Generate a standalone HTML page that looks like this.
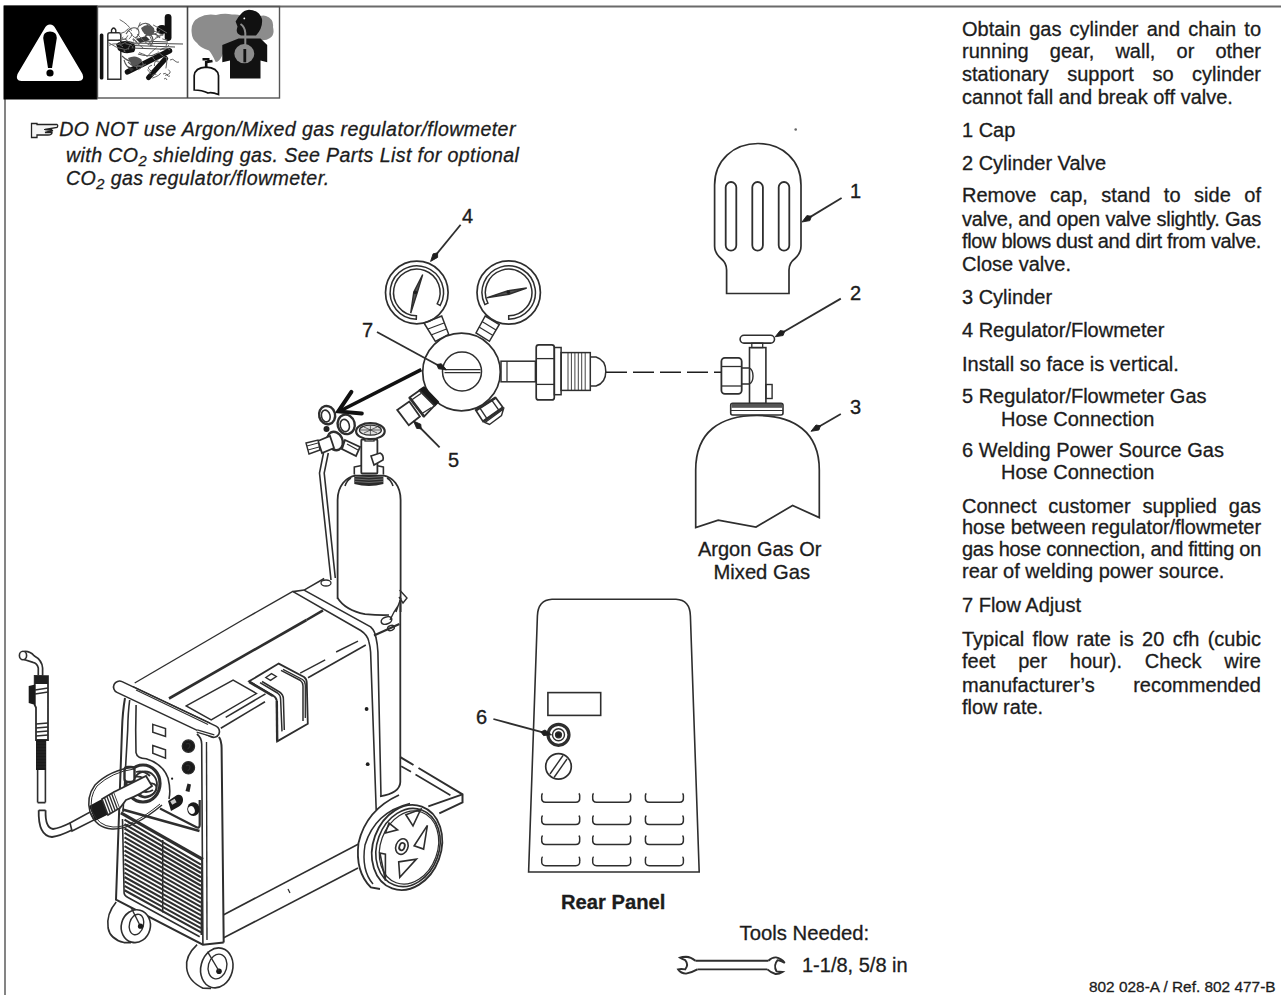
<!DOCTYPE html>
<html><head><meta charset="utf-8"><style>
html,body{margin:0;padding:0;background:#fff;}
body{width:1281px;height:995px;position:relative;overflow:hidden;font-family:"Liberation Sans",sans-serif;color:#1c1c1c;}
.t{position:absolute;white-space:nowrap;-webkit-text-stroke:0.3px #1c1c1c;}
.sub{font-size:0.75em;position:relative;top:0.3em;line-height:0;}
svg{position:absolute;left:0;top:0;}
</style></head><body>
<svg width="1281" height="995" viewBox="0 0 1281 995">
<line x1="4" y1="6.5" x2="1281" y2="6.5" stroke="#6a6a6a" stroke-width="2"/>
<line x1="5" y1="6" x2="5" y2="995" stroke="#777" stroke-width="1.8"/>
<rect x="3.5" y="5.5" width="94" height="94" fill="#000"/>
<path d="M50,24.6 Q53.5,24.6 55.5,28.5 L82.5,74 Q85,80.5 78.5,81 L21.5,81 Q15,80.5 17.5,74 L44.5,28.5 Q46.5,24.6 50,24.6 Z" fill="#fff"/>
<path d="M43.2,38 Q43.2,31.5 50,31.5 Q56.8,31.5 56.8,38 L52,68 L48,68 Z" fill="#000"/>
<circle cx="50" cy="73" r="3.6" fill="#000"/>
<rect x="97.5" y="6.5" width="182" height="91.5" fill="none" stroke="#555" stroke-width="1.4"/>
<line x1="187.5" y1="6" x2="187.5" y2="98" stroke="#444" stroke-width="1.6"/>
<rect x="99.8" y="33.5" width="3.6" height="46" rx="1.5" fill="#111"/>
<path d="M107.8,79.3 L107.8,35 Q107.8,32.8 110,32.8 L118.6,32.8 Q120.8,32.8 120.8,35 L120.8,79.3 Z M108,40.3 L120.6,40.3" fill="none" stroke="#333" stroke-width="1.5"/>
<path d="M111.5,33 L111.5,30 Q113.6,26 115.8,30 L115.8,33" fill="none" stroke="#222" stroke-width="1.4"/>
<rect x="164.7" y="14" width="6.8" height="27" rx="3.4" fill="#111"/>
<ellipse cx="162" cy="29.5" rx="5.5" ry="4.5" fill="#111"/>
<path d="M116,44 Q122,39 133,42 Q137,47 134,52 Q124,55 118,50 Z" fill="#111"/>
<path d="M132,43 L183,44 M133,45.5 L175,47 M131,48 L172,49.5 M140,41 L168,42" stroke="#333" stroke-width="0.9" fill="none"/>
<path d="M127.5,71.9 L169.5,50.8" stroke="#111" stroke-width="5.5" stroke-linecap="round"/>
<path d="M148.5,77.6 L165.7,58.5" stroke="#111" stroke-width="5" stroke-linecap="round"/>
<path d="M126,34 Q131,25 138,29 Q141,35 135,38 M139,26 Q146,20 152,27 Q150,33 144,33 M145,36 Q155,31 160,38 M122,56 Q130,64 138,60 M128,62 Q136,70 146,64 M138,54 Q150,58 158,53 M150,34 Q156,40 150,46 M124,60 Q126,67 132,70 M160,50 Q166,46 170,50" stroke="#555" stroke-width="1.1" fill="none"/>
<path d="M136,39 L146,36 L150,40 L140,43 Z M128,66 L134,69 L131,72 Z" fill="#333"/>
<path d="M136.9,30.1 Q139.6,24.2 140.3,22.3 M124.7,49.4 Q116.3,48.5 108.6,42.7 M141.5,66.7 Q134.8,62.8 137.1,69.0 M148.5,43.4 Q157.1,37.1 163.6,34.1 M128.6,28.4 Q125.2,32.8 119.4,33.9 M151.4,42.1 Q152.2,36.0 144.3,31.9 M153.3,45.1 Q150.0,46.3 149.1,43.5 M158.5,59.7 Q153.9,60.8 154.4,66.0 M155.6,37.5 Q164.2,32.2 162.7,35.8 M129.0,48.4 Q120.7,50.8 125.5,51.8 M162.3,38.9 Q165.8,40.3 167.2,39.7 M160.6,73.0 Q160.2,75.3 152.3,78.1 M151.8,75.6 Q157.6,72.6 155.5,75.0 M123.0,46.9 Q117.1,41.6 109.1,45.3 M127.9,35.4 Q126.0,40.6 118.4,39.9 M147.3,69.7 Q153.0,74.8 149.0,73.6 M138.5,69.7 Q146.7,64.9 140.9,61.1 M132.7,48.2 Q134.3,44.9 125.4,43.7 M139.0,52.6 Q147.1,55.2 147.4,56.9 M153.1,24.9 Q160.3,28.8 167.0,33.0 M140.0,43.5 Q132.9,45.4 125.0,39.4 M131.6,30.8 Q128.7,24.5 119.7,19.6 M126.7,41.6 Q118.1,46.9 120.2,42.0 M133.6,40.8 Q131.2,35.5 137.4,42.4 M143.4,48.1 Q136.0,42.6 133.1,39.3 M160.1,30.7 Q151.5,37.0 152.1,32.1 M147.0,23.5 Q147.5,30.2 154.0,32.9 M134.0,41.8 Q128.0,45.6 128.6,49.5 M137.2,34.0 Q142.8,40.8 149.1,45.1 M159.6,62.0 Q154.7,62.2 152.1,55.6 M123.3,37.1 Q119.0,39.8 127.2,39.0 M165.1,75.4 Q173.3,73.5 168.3,69.6 M131.0,33.0 Q133.3,38.6 139.4,38.4 M152.0,65.2 Q144.6,67.4 151.9,71.4 M156.5,47.8 Q150.7,51.9 147.7,56.1 M166.7,43.4 Q164.9,49.6 169.0,45.0 M127.8,30.2 Q135.1,34.5 128.8,39.0 M167.1,57.5 Q164.4,58.2 157.8,51.4 M166.7,57.1 Q167.1,63.2 165.9,68.4 M160.0,33.4 Q155.5,30.5 150.9,31.7" stroke="#666" stroke-width="1" fill="none"/>
<path d="M141,28 Q148,22 154,28 Q156,34 150,36 Q143,35 141,28 Z M128,58 Q136,54 142,60 Q140,66 132,66 Z" fill="#555"/>
<path d="M170,60 q3,-2 5,1 q2,2 4,1 M163,74 q3,-2 4,1 q1,2 3,1 M164,79 q2,-2 3,1" stroke="#666" stroke-width="1" fill="none"/>
<path d="M191.8,33.7 Q190,22 199,17.5 Q206,13.5 216,15 Q225,12.5 232,14.6 Q240,13.5 246,18 L252,22 Q260,14 266,16 Q274,19 273,27 Q275,35 270,38 Q266,41 260,40 L230,46 Q224,50 222,56 Q219,62 215.7,62 Q212,54 209,50.5 Q200,48 197,43 Q192,39 191.8,33.7 Z" fill="#8c8c8c"/>
<path d="M249,9.8 Q259,10 262,19 Q263,28 256,35.6 L241,35.6 Q236.5,34 236.7,30 L237.5,26.5 L235.6,21.5 Q238,17 240.5,14.6 Q244,10 249,9.8 Z" fill="#111"/>
<circle cx="244.3" cy="18.4" r="0.9" fill="#fff"/>
<path d="M222.3,45.1 L238.6,38.4 L260.5,38.4 L267.2,45.1 L267.2,62.3 L260.5,60.4 L260.5,78.5 L230,78.5 L230,60.4 L222.3,62.3 Z" fill="#111"/>
<ellipse cx="244.3" cy="53.7" rx="10" ry="9.6" fill="#8c8c8c"/>
<rect x="243.4" y="49" width="2.8" height="13.3" fill="#111"/>
<path d="M240.5,24 Q245,27 245.3,33 L245.3,47" stroke="#8c8c8c" stroke-width="2" fill="none"/>
<path d="M194.2,90 L194.2,75.7 Q195,67.5 206.1,67.1 Q217.5,67.5 218.5,75.7 L218.5,94.5 Q212,92 208,93 Q202,90 194.2,90 Z" fill="#fff" stroke="#111" stroke-width="1.7"/>
<path d="M206.2,67 L206.2,61 M202.5,59.2 L209.5,59.2 M207,62 L212.5,61" fill="none" stroke="#111" stroke-width="2.6"/>
<path d="M31.5,123.5 L31.5,137.5 L37,137.5 L37,135 L48,135 Q52,135 52,132.5 L45,132.5 L53,130.5 L45,129.5 L57,127.5 Q58.5,125.5 57,124.5 L37,124.5 L37,123.5 Z" fill="#f4f4f4" stroke="#222" stroke-width="1.3"/>
<path d="M44,129.5 L52,129.5 M45,132.5 L51,132.5" stroke="#222" stroke-width="1"/>
<circle cx="795.7" cy="129.5" r="1.3" fill="#666"/>
<path d="M726.6,293.5 L726.6,270 Q726.6,263 721,258.5 Q714.6,253 714.6,246 L714.6,185 C714.6,160 734,143.5 758,143.5 C782,143.5 801,160 801,185 L801,246 Q801,253 795,258.5 Q789,263 789,270 L789,293.5 Z" fill="none" stroke="#2e2e2e" stroke-width="1.7" />
<rect x="725.7" y="182" width="10.6" height="68.6" rx="5.3" fill="none" stroke="#2e2e2e" stroke-width="1.8" />
<rect x="752.3000000000001" y="182" width="10.6" height="68.6" rx="5.3" fill="none" stroke="#2e2e2e" stroke-width="1.8" />
<rect x="778.7" y="182" width="10.6" height="68.6" rx="5.3" fill="none" stroke="#2e2e2e" stroke-width="1.8" />
<line x1="841.6" y1="197.9" x2="807.125441251678" y2="218.88072893521618" stroke="#2e2e2e" stroke-width="1.8" />
<path d="M802.0,222.0 L806.9,215.6 L811.4,216.3 L809.9,220.6 Z" fill="#1e1e1e" stroke="#1e1e1e" stroke-width="0.9" stroke-linejoin="round"/>
<text x="850" y="198" font-family="Liberation Sans" font-size="20" fill="#1c1c1c" stroke="#1c1c1c" stroke-width="0.35">1</text>
<rect x="740.1" y="335.3" width="34.4" height="7.8" rx="3.9" fill="none" stroke="#2e2e2e" stroke-width="1.6" />
<rect x="751.8" y="343.1" width="10.9" height="4.5" rx="0" fill="none" stroke="#2e2e2e" stroke-width="1.3" />
<rect x="749.5" y="347.6" width="16.4" height="56" rx="0" fill="none" stroke="#2e2e2e" stroke-width="1.6" />
<rect x="721.4" y="357.9" width="20.3" height="35.9" rx="3.5" fill="none" stroke="#2e2e2e" stroke-width="1.8" />
<line x1="722" y1="366.5" x2="741" y2="366.5" stroke="#2e2e2e" stroke-width="1.3" />
<line x1="722" y1="386" x2="741" y2="386" stroke="#2e2e2e" stroke-width="1.3" />
<path d="M741.7,368 L749.5,368 Q753,370 753,376 Q753,382 749.5,384 L741.7,384" fill="none" stroke="#2e2e2e" stroke-width="1.4" />
<rect x="765.9" y="384.5" width="6.2" height="14" rx="0" fill="none" stroke="#2e2e2e" stroke-width="1.4" />
<rect x="730.7" y="403.2" width="52.3" height="11.8" rx="2" fill="none" stroke="#2e2e2e" stroke-width="1.6" />
<rect x="731.5" y="403.8" width="50.7" height="4" fill="#555"/>
<line x1="731" y1="410.5" x2="783" y2="410.5" stroke="#2e2e2e" stroke-width="1.2" />
<line x1="840.8" y1="298.6" x2="780.3849652768446" y2="333.780706195496" stroke="#2e2e2e" stroke-width="1.8" />
<path d="M775.2,336.8 L780.2,330.5 L784.7,331.3 L783.1,335.5 Z" fill="#1e1e1e" stroke="#1e1e1e" stroke-width="0.9" stroke-linejoin="round"/>
<text x="850" y="300" font-family="Liberation Sans" font-size="20" fill="#1c1c1c" stroke="#1c1c1c" stroke-width="0.35">2</text>
<path d="M695.7,527.6 L695.7,470 C695.7,432 720,415.5 757,415.5 C794,415.5 819.3,432 819.3,470 L819.3,517.6 L792.6,505.5 L756,527 L718.2,520.2 Z" fill="none" stroke="#2e2e2e" stroke-width="1.7" />
<line x1="840.8" y1="414" x2="816.1889775756335" y2="428.28760697790403" stroke="#2e2e2e" stroke-width="1.8" />
<path d="M811.0,431.3 L816.0,425.0 L820.5,425.8 L818.9,430.0 Z" fill="#1e1e1e" stroke="#1e1e1e" stroke-width="0.9" stroke-linejoin="round"/>
<text x="850" y="414" font-family="Liberation Sans" font-size="20" fill="#1c1c1c" stroke="#1c1c1c" stroke-width="0.35">3</text>
<line x1="606" y1="372.3" x2="721" y2="372.3" stroke="#1e1e1e" stroke-width="1.4" stroke-dasharray="21 6"/>
<circle cx="416.8" cy="292.5" r="31.3" fill="none" stroke="#2e2e2e" stroke-width="1.7" />
<path d="M416.3,319.2 A26.7,26.7 0 1 1 440.2,305.4 L437.2,303.8 A23.3,23.3 0 1 0 416.4,315.8 Z" fill="none" stroke="#2e2e2e" stroke-width="1.5" />
<path d="M410.7,313.2 L413.8,292 L422.7,274.6 L417.2,292.8 Z" fill="#555" stroke="#2e2e2e" stroke-width="1.4" />
<circle cx="415.4" cy="292.4" r="1.8" fill="#1e1e1e"/>
<circle cx="508.7" cy="292.5" r="31.7" fill="none" stroke="#2e2e2e" stroke-width="1.7" />
<path d="M484.9,304.6 A26.7,26.7 0 1 1 508.7,319.2 L508.7,315.8 A23.3,23.3 0 1 0 487.9,303.1 Z" fill="none" stroke="#2e2e2e" stroke-width="1.5" />
<path d="M486.6,297.8 L508,290.8 L526.7,288 L509,294.2 Z" fill="#555" stroke="#2e2e2e" stroke-width="1.4" />
<circle cx="508.4" cy="292.3" r="1.8" fill="#1e1e1e"/>
<path d="M424,323 L441.7,316 L448.7,334.3 L435.3,341.3 Z" fill="none" stroke="#2e2e2e" stroke-width="1.5" />
<line x1="428" y1="329" x2="444" y2="323" stroke="#2e2e2e" stroke-width="1.2" />
<line x1="431" y1="335" x2="446.5" y2="329" stroke="#2e2e2e" stroke-width="1.2" />
<path d="M485.2,316 L499.3,324.5 L489.4,341.3 L476,333 Z" fill="none" stroke="#2e2e2e" stroke-width="1.5" />
<line x1="482" y1="321.5" x2="496" y2="330" stroke="#2e2e2e" stroke-width="1.2" />
<line x1="479" y1="327" x2="493" y2="335.5" stroke="#2e2e2e" stroke-width="1.2" />
<circle cx="461.5" cy="372" r="38.8" fill="#fff" stroke="#2e2e2e" stroke-width="1.7" />
<circle cx="462" cy="371.5" r="19.5" fill="none" stroke="#2e2e2e" stroke-width="1.5" />
<line x1="444.5" y1="369.6" x2="480.5" y2="369.6" stroke="#2e2e2e" stroke-width="1.2" />
<line x1="444.5" y1="372.6" x2="480.5" y2="372.6" stroke="#2e2e2e" stroke-width="1.2" />
<rect x="501" y="361.2" width="34.4" height="20.6" rx="0" fill="none" stroke="#2e2e2e" stroke-width="1.5" />
<line x1="507" y1="361.5" x2="507" y2="381.5" stroke="#2e2e2e" stroke-width="1.2" />
<rect x="536.2" y="344.9" width="18.1" height="55" rx="2.5" fill="none" stroke="#2e2e2e" stroke-width="1.7" />
<line x1="536.5" y1="358.6" x2="554" y2="358.6" stroke="#2e2e2e" stroke-width="1.3" />
<line x1="536.5" y1="384.4" x2="554" y2="384.4" stroke="#2e2e2e" stroke-width="1.3" />
<rect x="554.3" y="347.5" width="6.8" height="47.2" rx="0" fill="none" stroke="#2e2e2e" stroke-width="1.5" />
<rect x="561.1" y="352.6" width="29.2" height="37.8" rx="0" fill="none" stroke="#2e2e2e" stroke-width="1.5" />
<line x1="568" y1="353" x2="568" y2="390" stroke="#2e2e2e" stroke-width="0.9" />
<line x1="571.4" y1="353" x2="571.4" y2="390" stroke="#2e2e2e" stroke-width="0.9" />
<line x1="574.9" y1="353" x2="574.9" y2="390" stroke="#2e2e2e" stroke-width="0.9" />
<line x1="578.3" y1="353" x2="578.3" y2="390" stroke="#2e2e2e" stroke-width="0.9" />
<line x1="581.7" y1="353" x2="581.7" y2="390" stroke="#2e2e2e" stroke-width="0.9" />
<line x1="585.2" y1="353" x2="585.2" y2="390" stroke="#2e2e2e" stroke-width="0.9" />
<path d="M590.3,357 L596,357 Q605.8,360 605.8,371.5 Q605.8,383 596,386 L590.3,386" fill="none" stroke="#2e2e2e" stroke-width="1.5" />
<path d="M485,422.5 L503.5,409 L501.5,415.5 L489.5,424.5 Z" fill="#fff" stroke="#2e2e2e" stroke-width="1.4" />
<path d="M475.8,410.3 L495.7,397.7 L503,407.6 L483.1,421.6 Z" fill="#fff" stroke="#2e2e2e" stroke-width="1.7" />
<line x1="475.8" y1="410.3" x2="495.7" y2="397.7" stroke="#2e2e2e" stroke-width="2.6" />
<line x1="483.1" y1="421.6" x2="503" y2="407.6" stroke="#2e2e2e" stroke-width="2.6" />
<line x1="479.8" y1="407.8" x2="487.1" y2="418.8" stroke="#2e2e2e" stroke-width="1.4" />
<line x1="491.7" y1="400.2" x2="499" y2="410.4" stroke="#2e2e2e" stroke-width="1.4" />
<path d="M419.5,390.5 L424,387.5 L438,402 L434.5,405.5 Z" fill="#1a1a1a" stroke="#1a1a1a" stroke-width="2.2" stroke-linejoin="round"/>
<path d="M409.5,397.5 L419.5,390.5 L434.5,405.5 L424,416.5 Z" fill="#fff" stroke="#2e2e2e" stroke-width="1.8" />
<line x1="409.5" y1="397.5" x2="424" y2="416.5" stroke="#2e2e2e" stroke-width="2.8" />
<line x1="411.5" y1="400" x2="421" y2="393.5" stroke="#2e2e2e" stroke-width="1.4" />
<line x1="422" y1="413.5" x2="431.5" y2="407.5" stroke="#2e2e2e" stroke-width="1.4" />
<path d="M397.2,409.9 L409.3,401.6 L419.9,416.5 L408.8,425.3 Z" fill="#fff" stroke="#2e2e2e" stroke-width="1.8" />
<line x1="439.6" y1="447.3" x2="417.7264166171257" y2="425.2588029513566" stroke="#2e2e2e" stroke-width="1.8" />
<path d="M413.5,421.0 L420.8,424.3 L421.2,428.8 L416.7,428.4 Z" fill="#1e1e1e" stroke="#1e1e1e" stroke-width="0.9" stroke-linejoin="round"/>
<text x="448" y="467" font-family="Liberation Sans" font-size="20" fill="#1c1c1c" stroke="#1c1c1c" stroke-width="0.35">5</text>
<line x1="377" y1="332" x2="441.22915243053984" y2="366.93326563848063" stroke="#2e2e2e" stroke-width="1.8" />
<path d="M446.5,369.8 L438.5,368.8 L436.8,364.5 L441.3,363.7 Z" fill="#1e1e1e" stroke="#1e1e1e" stroke-width="0.9" stroke-linejoin="round"/>
<text x="362" y="337" font-family="Liberation Sans" font-size="20" fill="#1c1c1c" stroke="#1c1c1c" stroke-width="0.35">7</text>
<line x1="460.6" y1="224.8" x2="434.40356772931256" y2="256.7596473702387" stroke="#2e2e2e" stroke-width="1.8" />
<path d="M430.6,261.4 L433.1,253.8 L437.6,252.9 L437.6,257.4 Z" fill="#1e1e1e" stroke="#1e1e1e" stroke-width="0.9" stroke-linejoin="round"/>
<text x="462" y="222.5" font-family="Liberation Sans" font-size="20" fill="#1c1c1c" stroke="#1c1c1c" stroke-width="0.35">4</text>
<path d="M421.3,369.6 L340,411" stroke="#111" stroke-width="3.6" fill="none"/>
<path d="M351.4,391.8 L338.3,411.4 L361.8,413.4" stroke="#111" stroke-width="4" fill="none" stroke-linejoin="miter" stroke-linecap="round"/>
<path d="M337.6,599 L337.6,500 C337.6,486 346,477 356,475.4 M383,475.4 C393,477 400.6,486 400.6,500 L400.6,612" fill="none" stroke="#2e2e2e" stroke-width="1.8" />
<path d="M345,486 Q347,480 351,478 M393,486 Q391,480 387,478" fill="none" stroke="#2e2e2e" stroke-width="1.6" />
<path d="M337.6,598 Q345,610 365,614.2 Q380,615.5 389,615" fill="none" stroke="#2e2e2e" stroke-width="1.7" />
<path d="M354.3,474.4 L383.4,474.4 L383.4,484 Q369,488 354.3,484 Z" fill="#2a2a2a"/>
<path d="M355,476.5 Q369,478.5 383,476.5" stroke="#888" stroke-width="0.7" fill="none"/>
<path d="M355,479 Q369,481 383,479" stroke="#888" stroke-width="0.7" fill="none"/>
<path d="M355,481.5 Q369,483.5 383,481.5" stroke="#888" stroke-width="0.7" fill="none"/>
<path d="M354.3,474.4 L354.3,467 Q369,463 383.4,467 L383.4,474.4" fill="#fff" stroke="#2e2e2e" stroke-width="1.6" />
<rect x="361.3" y="439.5" width="16.1" height="34" rx="1" fill="#fff" stroke="#2e2e2e" stroke-width="1.8" />
<rect x="365" y="436" width="9" height="5" rx="0" fill="#fff" stroke="#2e2e2e" stroke-width="1.3" />
<path d="M371,456 L380,453 Q384,455 383,460 L374,465 Z" fill="#fff" stroke="#2e2e2e" stroke-width="1.6" />
<ellipse cx="370.4" cy="431.2" rx="14.3" ry="8" transform="rotate(0 370.4 431.2)" fill="#fff" stroke="#2e2e2e" stroke-width="2.2" />
<ellipse cx="370.4" cy="430.2" rx="11" ry="5" transform="rotate(0 370.4 430.2)" fill="#ddd" stroke="#2e2e2e" stroke-width="1.2" />
<path d="M360,430 L381,430 M370.4,425.5 L370.4,435 M364,427 L377,433 M364,433 L377,427" fill="none" stroke="#2e2e2e" stroke-width="0.7" />
<ellipse cx="327.1" cy="415.1" rx="8" ry="9.2" transform="rotate(-15 327.1 415.1)" fill="#fff" stroke="#2e2e2e" stroke-width="2.4" />
<ellipse cx="325.8" cy="416" rx="4.3" ry="6" transform="rotate(-15 325.8 416)" fill="#fff" stroke="#2e2e2e" stroke-width="1.6" />
<ellipse cx="346.2" cy="424.4" rx="8.5" ry="9.8" transform="rotate(-15 346.2 424.4)" fill="#fff" stroke="#2e2e2e" stroke-width="2.4" />
<ellipse cx="344.8" cy="425.5" rx="4.5" ry="6.2" transform="rotate(-15 344.8 425.5)" fill="#fff" stroke="#2e2e2e" stroke-width="1.6" />
<ellipse cx="326.5" cy="429" rx="3" ry="3" fill="#222"/>
<ellipse cx="335" cy="441" rx="7.5" ry="9.5" transform="rotate(-25 335 441)" fill="#fff" stroke="#2e2e2e" stroke-width="2.4" />
<path d="M318,441 L330,436 L334,448 L322,453 Z" fill="#fff" stroke="#2e2e2e" stroke-width="1.8" />
<path d="M306,443 L318,440 L320,450 L309,454 Z" fill="#fff" stroke="#2e2e2e" stroke-width="1.4" />
<line x1="307" y1="446" x2="318" y2="443" stroke="#2e2e2e" stroke-width="1" />
<line x1="308" y1="450" x2="319" y2="447" stroke="#2e2e2e" stroke-width="1" />
<path d="M345,440 L360,447 L356,456 L342,449 Z" fill="#fff" stroke="#2e2e2e" stroke-width="1.8" />
<line x1="347" y1="444" x2="358" y2="450" stroke="#2e2e2e" stroke-width="1.2" />
<path d="M323.5,453 L319.5,473 L331,580" fill="none" stroke="#2e2e2e" stroke-width="1.6" />
<path d="M328.3,453 L324.2,473 L335.3,578" fill="none" stroke="#2e2e2e" stroke-width="1.6" />
<path d="M293.1,591.6 L304.1,590.1 L324.2,578.5" fill="none" stroke="#2e2e2e" stroke-width="1.6" />
<ellipse cx="326" cy="583" rx="5" ry="3" transform="rotate(0 326 583)" fill="none" stroke="#2e2e2e" stroke-width="1.3" />
<path d="M374,635.4 L399.4,624" fill="none" stroke="#2e2e2e" stroke-width="2.2" />
<path d="M399.6,590 L407,598 L403,603 L399,597 M401,598 Q398,606 396,612 M398,606 L394,612 L390,620" fill="none" stroke="#2e2e2e" stroke-width="1.4" />
<ellipse cx="386.5" cy="620.5" rx="5.5" ry="3.5" transform="rotate(-20 386.5 620.5)" fill="none" stroke="#2e2e2e" stroke-width="1.5" />
<ellipse cx="391" cy="628" rx="3.5" ry="2.5" transform="rotate(-20 391 628)" fill="none" stroke="#2e2e2e" stroke-width="1.3" />
<path d="M400.3,600 L400.3,782 Q400,793 380,796.3" fill="none" stroke="#2e2e2e" stroke-width="1.8" />
<path d="M293.1,591.6 L360.7,630.5 Q367.5,635 368.8,641.4 Q370.3,647 370.6,652 L376.2,810" fill="none" stroke="#2e2e2e" stroke-width="1.6" />
<path d="M304.1,590.1 L370.6,626.9 Q375,631 376,637.8 Q377.5,644 377.9,652 L381,797" fill="none" stroke="#2e2e2e" stroke-width="1.6" />
<line x1="134.7" y1="683" x2="242.5" y2="620" stroke="#2e2e2e" stroke-width="1.4" />
<line x1="242.5" y1="620" x2="293.3" y2="591.1" stroke="#2e2e2e" stroke-width="1.4" />
<line x1="169" y1="698.5" x2="306.5" y2="620" stroke="#2e2e2e" stroke-width="2.6" />
<line x1="306.5" y1="620" x2="323" y2="610.4" stroke="#2e2e2e" stroke-width="2.6" />
<path d="M186.2,705.9 L233.1,680.1 L256.5,693.4 L211.2,719.9 Z" fill="none" stroke="#2e2e2e" stroke-width="1.4" />
<line x1="220.8" y1="728.2" x2="265" y2="701.8" stroke="#2e2e2e" stroke-width="1.6" />
<line x1="308" y1="677.8" x2="365.8" y2="645" stroke="#2e2e2e" stroke-width="1.6" />
<line x1="225.7" y1="717.4" x2="265.5" y2="693.9" stroke="#2e2e2e" stroke-width="1.6" />
<line x1="300.2" y1="673.1" x2="325.2" y2="659.8" stroke="#2e2e2e" stroke-width="1.4" />
<line x1="336.1" y1="652" x2="358" y2="641.1" stroke="#2e2e2e" stroke-width="1.4" />
<path d="M249.1,681.3 L278.7,663.6 L304,677 Q306.8,679 306.8,683 L307.8,723.7 L277.2,741.4 L276.8,701 Q276.5,697.5 273,695.5 Z" fill="#fff" stroke="#2e2e2e" stroke-width="1.8" />
<path d="M249.1,681.8 L273,696" fill="none" stroke="#2e2e2e" stroke-width="2.6" />
<path d="M276.8,701 L277.2,741.4" fill="none" stroke="#2e2e2e" stroke-width="2.4" />
<path d="M260,682.7 L277.5,693 Q280.5,695 280.6,699 L282,731.4" fill="none" stroke="#2e2e2e" stroke-width="1.5" />
<path d="M262,681.5 L279.5,692 Q283.3,694.5 283.4,699 L284.3,730" fill="none" stroke="#2e2e2e" stroke-width="1.5" />
<path d="M281,670.3 L300.5,680.5 Q303,682.5 303,686 L303,720.9" fill="none" stroke="#2e2e2e" stroke-width="1.5" />
<path d="M283,669.3 L302.5,679.5 Q305.3,681.5 305.3,685 L305.3,718" fill="none" stroke="#2e2e2e" stroke-width="1.3" />
<path d="M265.8,677.5 L271.5,673.6 L276.3,676.5 L270.5,680.3 Z" fill="none" stroke="#2e2e2e" stroke-width="1.4" />
<path d="M119.5,687 L213.5,731.5" stroke="#2e2e2e" stroke-width="13.5" stroke-linecap="round" fill="none"/>
<path d="M119.5,687 L213.5,731.5" stroke="#fff" stroke-width="10.3" stroke-linecap="round" fill="none"/>
<line x1="133" y1="686.5" x2="210" y2="723" stroke="#2e2e2e" stroke-width="1.3" />
<line x1="136" y1="690" x2="208" y2="724.5" stroke="#2e2e2e" stroke-width="1.1" />
<path d="M197,731 L214,736" fill="none" stroke="#2e2e2e" stroke-width="3.4" />
<path d="M197,731 L214,736" stroke="#fff" stroke-width="1.3" fill="none"/>
<path d="M125,698 Q122.5,712 122,730 L116,899.7 L202.9,944.7 L223.7,942.4" fill="none" stroke="#2e2e2e" stroke-width="2.0" />
<path d="M129.7,700 Q128,712 127.7,730 L123,812" fill="none" stroke="#2e2e2e" stroke-width="1.6" />
<path d="M136.1,705 L135.7,730 L136,752.7 Q137,758.5 146.2,758.8 Q163,764 168,778 Q171,790 169,799" fill="none" stroke="#2e2e2e" stroke-width="1.6" />
<path d="M196.9,734 Q202,738 201.7,745 L202.9,944" fill="none" stroke="#2e2e2e" stroke-width="1.6" />
<path d="M206.5,742 L207,940" fill="none" stroke="#2e2e2e" stroke-width="1.4" />
<path d="M219,737 Q221.5,741 221.6,748 L223.7,942.4" fill="none" stroke="#2e2e2e" stroke-width="2.0" />
<path d="M152.8,724.4 L165.5,728.6 L165.5,736.4 L152.8,732.2 Z" fill="none" stroke="#2e2e2e" stroke-width="1.5" />
<path d="M152.8,745.5 L165.5,749.7 L165.5,758.2 L152.8,753.3 Z" fill="none" stroke="#2e2e2e" stroke-width="1.5" />
<circle cx="188.4" cy="746.1" r="6.2" fill="#1a1a1a" stroke="#2e2e2e" stroke-width="1.2" />
<path d="M186,744 Q189,742.5 190,745 Q190,748 187.5,749" fill="none" stroke="#2e2e2e" stroke-width="1.1" stroke="#fff"/>
<circle cx="188.4" cy="767.8" r="6.2" fill="#1a1a1a" stroke="#2e2e2e" stroke-width="1.2" />
<path d="M186,765.7 Q189,764.2 190,766.7 Q190,769.7 187.5,770.7" fill="none" stroke="#2e2e2e" stroke-width="1.1" stroke="#fff"/>
<path d="M185.5,791 L187.5,783.5 L191,784.5 L189.5,792 Z" fill="#222"/>
<circle cx="172.1" cy="778.7" r="1.1" fill="#1e1e1e"/>
<path d="M160,808.5 L196,827 Q199.7,829 199.7,825 L199.7,800" fill="none" stroke="#2e2e2e" stroke-width="2.2" />
<ellipse cx="193.4" cy="809.1" rx="6.2" ry="6.8" fill="#1a1a1a"/>
<ellipse cx="191.5" cy="810" rx="3.2" ry="4" transform="rotate(-20 191.5 810)" fill="#fff"/>
<path d="M168,801 L177,795 Q182,794 183,799 Q183.5,804 179,806.5 L171,811 Z" fill="#1a1a1a"/>
<rect x="171" y="800" width="5" height="4" transform="rotate(-30 173 802)" fill="#ccc"/>
<line x1="122.5" y1="809.6" x2="199.5" y2="831" stroke="#2e2e2e" stroke-width="2.6" />
<ellipse cx="143" cy="783.5" rx="17" ry="18.5" transform="rotate(0 143 783.5)" fill="none" stroke="#2e2e2e" stroke-width="3.2" />
<ellipse cx="145" cy="784.5" rx="12" ry="13" transform="rotate(0 145 784.5)" fill="none" stroke="#2e2e2e" stroke-width="1.8" />
<path d="M136,772 Q144,770 150,776 M134,777 Q142,775 149,782 M137,790 Q147,794 153,790" fill="none" stroke="#2e2e2e" stroke-width="1.8" />
<ellipse cx="148" cy="790" rx="9" ry="6" transform="rotate(-25 148 790)" fill="none" stroke="#2e2e2e" stroke-width="1.8" />
<path d="M124.5,770 Q124.5,767 128,767 L131,767 Q134.5,767 134.5,770 L134.5,779 Q134.5,782 131,782 L128,782 Q124.5,782 124.5,779 Z" fill="#fff" stroke="#2e2e2e" stroke-width="2.4" />
<path d="M120.9,812.9 L202.9,859.5" fill="none" stroke="#2e2e2e" stroke-width="3.2" />
<path d="M122.5,819 L124.1,893.2 Q124.5,896 128,897.5 L199.7,936.7" fill="none" stroke="#2e2e2e" stroke-width="1.6" />
<line x1="202" y1="859.5" x2="201.3" y2="935" stroke="#2e2e2e" stroke-width="1.6" />
<line x1="124.5" y1="819.6470588235294" x2="201" y2="864.5411764705882" stroke="#2e2e2e" stroke-width="2.1" />
<line x1="124.5" y1="824.0588235294117" x2="201" y2="868.7764705882353" stroke="#2e2e2e" stroke-width="2.1" />
<line x1="124.5" y1="828.4705882352941" x2="201" y2="873.0117647058823" stroke="#2e2e2e" stroke-width="2.1" />
<line x1="124.5" y1="832.8823529411765" x2="201" y2="877.2470588235294" stroke="#2e2e2e" stroke-width="2.1" />
<line x1="124.5" y1="837.2941176470588" x2="201" y2="881.4823529411765" stroke="#2e2e2e" stroke-width="2.1" />
<line x1="124.5" y1="841.7058823529412" x2="201" y2="885.7176470588236" stroke="#2e2e2e" stroke-width="2.1" />
<line x1="124.5" y1="846.1176470588235" x2="201" y2="889.9529411764706" stroke="#2e2e2e" stroke-width="2.1" />
<line x1="124.5" y1="850.5294117647059" x2="201" y2="894.1882352941177" stroke="#2e2e2e" stroke-width="2.1" />
<line x1="124.5" y1="854.9411764705883" x2="201" y2="898.4235294117647" stroke="#2e2e2e" stroke-width="2.1" />
<line x1="124.5" y1="859.3529411764706" x2="201" y2="902.6588235294117" stroke="#2e2e2e" stroke-width="2.1" />
<line x1="124.5" y1="863.7647058823529" x2="201" y2="906.8941176470588" stroke="#2e2e2e" stroke-width="2.1" />
<line x1="124.5" y1="868.1764705882352" x2="201" y2="911.1294117647059" stroke="#2e2e2e" stroke-width="2.1" />
<line x1="124.5" y1="872.5882352941177" x2="201" y2="915.364705882353" stroke="#2e2e2e" stroke-width="2.1" />
<line x1="124.5" y1="877.0" x2="201" y2="919.6" stroke="#2e2e2e" stroke-width="2.1" />
<line x1="124.5" y1="881.4117647058823" x2="201" y2="923.8352941176471" stroke="#2e2e2e" stroke-width="2.1" />
<line x1="124.5" y1="885.8235294117646" x2="201" y2="928.070588235294" stroke="#2e2e2e" stroke-width="2.1" />
<line x1="124.5" y1="890.2352941176471" x2="201" y2="932.3058823529411" stroke="#2e2e2e" stroke-width="2.1" />
<line x1="162.7" y1="840" x2="162.7" y2="912.5" stroke="#2e2e2e" stroke-width="1.5" />
<line x1="223.7" y1="914.7" x2="370" y2="838" stroke="#2e2e2e" stroke-width="1.6" />
<line x1="223.7" y1="937.8" x2="358" y2="868" stroke="#2e2e2e" stroke-width="1.6" />
<circle cx="366.6" cy="709" r="1.9" fill="#1e1e1e"/>
<circle cx="367.7" cy="764.2" r="1.9" fill="#1e1e1e"/>
<line x1="288" y1="889" x2="290" y2="893" stroke="#2e2e2e" stroke-width="1.3" />
<path d="M400.3,757.1 L413.5,765 M418.5,768 L462.5,794.3 L462.5,802.4 L439.3,813.4" fill="none" stroke="#2e2e2e" stroke-width="2.0" />
<line x1="428.3" y1="806.4" x2="462.5" y2="794.3" stroke="#2e2e2e" stroke-width="1.8" />
<path d="M401.2,766.2 L411,771.8 M415.5,774.5 L450.4,795.3" fill="none" stroke="#2e2e2e" stroke-width="1.6" />
<path d="M399,795 Q366,810 358.5,843 Q355,872 371,887.5 L380,889" fill="#fff" stroke="#2e2e2e" stroke-width="1.8" />
<ellipse cx="407" cy="847.5" rx="34" ry="43.5" transform="rotate(20 407 847.5)" fill="#fff" stroke="#2e2e2e" stroke-width="1.8" />
<path d="M410,803.5 Q375,812 365,845 Q361,870 373,884" fill="none" stroke="#2e2e2e" stroke-width="1.5" />
<ellipse cx="408" cy="847.5" rx="31" ry="40" transform="rotate(20 408 847.5)" fill="none" stroke="#2e2e2e" stroke-width="1.6" />
<ellipse cx="409" cy="847.5" rx="28.5" ry="37.5" transform="rotate(20 409 847.5)" fill="none" stroke="#2e2e2e" stroke-width="1.2" />
<ellipse cx="401.9" cy="846.6" rx="6" ry="8" transform="rotate(20 401.9 846.6)" fill="none" stroke="#2e2e2e" stroke-width="1.6" />
<ellipse cx="402" cy="846.6" rx="2.6" ry="3.8" transform="rotate(20 402 846.6)" fill="none" stroke="#2e2e2e" stroke-width="1.8" />
<path d="M405.9,814.8 L420.8,809.3 L413,825.9 Z" fill="none" stroke="#2e2e2e" stroke-width="1.6" />
<path d="M414.2,845.8 L427.4,825.4 L423.6,849.1 Z" fill="none" stroke="#2e2e2e" stroke-width="1.6" />
<path d="M398.7,861.9 L416.4,859.1 L399.8,877.3 Z" fill="none" stroke="#2e2e2e" stroke-width="1.6" />
<path d="M379.9,853 L385.4,854.1 L385.4,880.7 Z" fill="none" stroke="#2e2e2e" stroke-width="1.6" />
<path d="M385.4,833.1 L397.6,829.8 L389,823 Z" fill="none" stroke="#2e2e2e" stroke-width="1.6" />
<path d="M116.2,902 Q106,914 108.1,928 Q110,939 124,942.6 L131,942.6" fill="none" stroke="#2e2e2e" stroke-width="1.6" />
<ellipse cx="135.8" cy="926.2" rx="14.5" ry="16.5" transform="rotate(15 135.8 926.2)" fill="#fff" stroke="#2e2e2e" stroke-width="1.6" />
<ellipse cx="136.5" cy="924.5" rx="7" ry="10.5" transform="rotate(15 136.5 924.5)" fill="none" stroke="#2e2e2e" stroke-width="1.4" />
<circle cx="140.5" cy="926.2" r="2.6" fill="#1a1a1a"/>
<line x1="131.2" y1="907.7" x2="139.3" y2="924" stroke="#2e2e2e" stroke-width="1.4" />
<path d="M197.1,944.7 Q185,956 186.7,968 Q188,981 203,988.2 L211,988.4" fill="none" stroke="#2e2e2e" stroke-width="1.6" />
<ellipse cx="216.8" cy="967.9" rx="15.9" ry="20.2" transform="rotate(15 216.8 967.9)" fill="#fff" stroke="#2e2e2e" stroke-width="1.6" />
<ellipse cx="217.5" cy="966.5" rx="9.2" ry="12.5" transform="rotate(15 217.5 966.5)" fill="none" stroke="#2e2e2e" stroke-width="1.4" />
<circle cx="219" cy="971.3" r="2.8" fill="#1a1a1a"/>
<line x1="207.5" y1="951.7" x2="219" y2="971" stroke="#2e2e2e" stroke-width="1.4" />
<path d="M24,651.5 Q30,651 34.1,655.7 Q42,660 42.6,668 L42.6,676.2 L38.3,676 L38.3,668 Q37,663 33,662.3 L24,659.5" fill="#fff" stroke="#2e2e2e" stroke-width="1.7" />
<ellipse cx="23" cy="655.5" rx="3.6" ry="4.2" transform="rotate(0 23 655.5)" fill="#fff" stroke="#2e2e2e" stroke-width="1.6" />
<path d="M34.7,676 L48,676.2 L48,740 L36,740 L36,707.5 L34.7,705 Z" fill="#fff" stroke="#2e2e2e" stroke-width="1.8" />
<rect x="35" y="676" width="13" height="8" fill="#1e1e1e"/>
<path d="M28.7,686 L35.3,684.6 L35.3,705.1 L28.7,703 Z" fill="#1a1a1a"/>
<line x1="35" y1="690" x2="48" y2="688" stroke="#2e2e2e" stroke-width="1.5" />
<line x1="35" y1="694" x2="48" y2="692" stroke="#2e2e2e" stroke-width="1.5" />
<line x1="36" y1="724" x2="48" y2="723" stroke="#2e2e2e" stroke-width="1.4" />
<line x1="36" y1="728" x2="48" y2="727" stroke="#2e2e2e" stroke-width="1.4" />
<line x1="36" y1="732" x2="48" y2="731" stroke="#2e2e2e" stroke-width="1.4" />
<line x1="36" y1="736" x2="48" y2="735" stroke="#2e2e2e" stroke-width="1.4" />
<rect x="36" y="740" width="10.2" height="30" fill="#1a1a1a"/>
<line x1="36.5" y1="743" x2="46" y2="743" stroke="#2e2e2e" stroke-width="0.7" stroke="#777"/>
<line x1="36.5" y1="746" x2="46" y2="746" stroke="#2e2e2e" stroke-width="0.7" stroke="#777"/>
<line x1="36.5" y1="749" x2="46" y2="749" stroke="#2e2e2e" stroke-width="0.7" stroke="#777"/>
<line x1="36.5" y1="752" x2="46" y2="752" stroke="#2e2e2e" stroke-width="0.7" stroke="#777"/>
<line x1="36.5" y1="755" x2="46" y2="755" stroke="#2e2e2e" stroke-width="0.7" stroke="#777"/>
<line x1="36.5" y1="758" x2="46" y2="758" stroke="#2e2e2e" stroke-width="0.7" stroke="#777"/>
<line x1="36.5" y1="761" x2="46" y2="761" stroke="#2e2e2e" stroke-width="0.7" stroke="#777"/>
<line x1="36.5" y1="764" x2="46" y2="764" stroke="#2e2e2e" stroke-width="0.7" stroke="#777"/>
<line x1="36.5" y1="767" x2="46" y2="767" stroke="#2e2e2e" stroke-width="0.7" stroke="#777"/>
<path d="M37.6,770 L37.6,802.6 M45.4,770 L45.4,802.6 M37.6,802.6 L45.4,802.6" fill="none" stroke="#2e2e2e" stroke-width="1.6" />
<path d="M38.7,810.3 L45.6,810.3 M38.7,810.3 Q38,836 52,837 Q60,836 72,830 M45.6,810.3 Q45,828 53,829 Q60,828 70,823" fill="none" stroke="#2e2e2e" stroke-width="1.8" />
<path d="M70,823 L90,812 L94,820 L72,831 Z" fill="#fff" stroke="#2e2e2e" stroke-width="1.6"/>
<path d="M89,806 L103,798.6 L109,814 L95,821 Z" fill="#1a1a1a"/>
<path d="M102,799 L114,792 L120,808 L108,815 Z" fill="#fff" stroke="#2e2e2e" stroke-width="1.6" />
<line x1="104.4" y1="797.6" x2="110.4" y2="813.6" stroke="#2e2e2e" stroke-width="1.3" />
<line x1="106.8" y1="796.2" x2="112.8" y2="812.2" stroke="#2e2e2e" stroke-width="1.3" />
<line x1="109.2" y1="794.8" x2="115.2" y2="810.8" stroke="#2e2e2e" stroke-width="1.3" />
<line x1="111.6" y1="793.4" x2="117.6" y2="809.4" stroke="#2e2e2e" stroke-width="1.3" />
<path d="M114,792 L146,776 L152,786 Q140,795 126,800 L120,808" fill="#fff" stroke="#2e2e2e" stroke-width="1.8" />
<path d="M134,767 Q110,770 95,785 Q86,797 90,812 Q96,828 112,829 Q132,830 162,805" fill="none" stroke="#2e2e2e" stroke-width="1.5" />
<path d="M134,769 Q112,772 97,786 Q89,797 92,811 Q98,826 113,827 Q131,828 160,804" fill="none" stroke="#2e2e2e" stroke-width="1.0" />
<path d="M528.6,872 L537.4,616 Q538,600 552,599.3 L676,599.3 Q690,600 690.4,616 L699.2,872 Z" fill="none" stroke="#2e2e2e" stroke-width="1.6" />
<rect x="547.9" y="692.6" width="52.8" height="22.8" rx="0" fill="none" stroke="#2e2e2e" stroke-width="1.6" />
<circle cx="558.5" cy="734.8" r="10.5" fill="none" stroke="#2e2e2e" stroke-width="3.2" />
<circle cx="558.5" cy="734.8" r="6" fill="none" stroke="#2e2e2e" stroke-width="1.4" />
<circle cx="558.5" cy="734.8" r="3" fill="#1e1e1e" stroke="#2e2e2e" stroke-width="1.2" />
<circle cx="558.5" cy="766.4" r="12.8" fill="none" stroke="#2e2e2e" stroke-width="1.7" />
<line x1="550" y1="774" x2="563" y2="755.5" stroke="#2e2e2e" stroke-width="1.4" />
<line x1="554" y1="777.5" x2="567" y2="759" stroke="#2e2e2e" stroke-width="1.4" />
<path d="M542.7,793.5 Q541.5,794 541.7,797 Q541.2,802.3 545.7,802.3 L575.7,802.3 Q580.2,802.3 579.7,797 Q579.9000000000001,794 578.7,793.5" fill="none" stroke="#2e2e2e" stroke-width="1.5" />
<path d="M542.7,815.7 Q541.5,816.2 541.7,819.2 Q541.2,824.5 545.7,824.5 L575.7,824.5 Q580.2,824.5 579.7,819.2 Q579.9000000000001,816.2 578.7,815.7" fill="none" stroke="#2e2e2e" stroke-width="1.5" />
<path d="M542.7,835.8 Q541.5,836.3 541.7,839.3 Q541.2,844.5999999999999 545.7,844.5999999999999 L575.7,844.5999999999999 Q580.2,844.5999999999999 579.7,839.3 Q579.9000000000001,836.3 578.7,835.8" fill="none" stroke="#2e2e2e" stroke-width="1.5" />
<path d="M542.7,856.9 Q541.5,857.4 541.7,860.4 Q541.2,865.6999999999999 545.7,865.6999999999999 L575.7,865.6999999999999 Q580.2,865.6999999999999 579.7,860.4 Q579.9000000000001,857.4 578.7,856.9" fill="none" stroke="#2e2e2e" stroke-width="1.5" />
<path d="M593.7,793.5 Q592.5,794 592.7,797 Q592.2,802.3 596.7,802.3 L626.7,802.3 Q631.2,802.3 630.7,797 Q630.9000000000001,794 629.7,793.5" fill="none" stroke="#2e2e2e" stroke-width="1.5" />
<path d="M593.7,815.7 Q592.5,816.2 592.7,819.2 Q592.2,824.5 596.7,824.5 L626.7,824.5 Q631.2,824.5 630.7,819.2 Q630.9000000000001,816.2 629.7,815.7" fill="none" stroke="#2e2e2e" stroke-width="1.5" />
<path d="M593.7,835.8 Q592.5,836.3 592.7,839.3 Q592.2,844.5999999999999 596.7,844.5999999999999 L626.7,844.5999999999999 Q631.2,844.5999999999999 630.7,839.3 Q630.9000000000001,836.3 629.7,835.8" fill="none" stroke="#2e2e2e" stroke-width="1.5" />
<path d="M593.7,856.9 Q592.5,857.4 592.7,860.4 Q592.2,865.6999999999999 596.7,865.6999999999999 L626.7,865.6999999999999 Q631.2,865.6999999999999 630.7,860.4 Q630.9000000000001,857.4 629.7,856.9" fill="none" stroke="#2e2e2e" stroke-width="1.5" />
<path d="M646.4,793.5 Q645.1999999999999,794 645.4,797 Q644.9,802.3 649.4,802.3 L679.4,802.3 Q683.9,802.3 683.4,797 Q683.6,794 682.4,793.5" fill="none" stroke="#2e2e2e" stroke-width="1.5" />
<path d="M646.4,815.7 Q645.1999999999999,816.2 645.4,819.2 Q644.9,824.5 649.4,824.5 L679.4,824.5 Q683.9,824.5 683.4,819.2 Q683.6,816.2 682.4,815.7" fill="none" stroke="#2e2e2e" stroke-width="1.5" />
<path d="M646.4,835.8 Q645.1999999999999,836.3 645.4,839.3 Q644.9,844.5999999999999 649.4,844.5999999999999 L679.4,844.5999999999999 Q683.9,844.5999999999999 683.4,839.3 Q683.6,836.3 682.4,835.8" fill="none" stroke="#2e2e2e" stroke-width="1.5" />
<path d="M646.4,856.9 Q645.1999999999999,857.4 645.4,860.4 Q644.9,865.6999999999999 649.4,865.6999999999999 L679.4,865.6999999999999 Q683.9,865.6999999999999 683.4,860.4 Q683.6,857.4 682.4,856.9" fill="none" stroke="#2e2e2e" stroke-width="1.5" />
<line x1="493.4" y1="719" x2="545.7102687870591" y2="733.2255119937269" stroke="#2e2e2e" stroke-width="1.8" />
<path d="M551.5,734.8 L543.5,735.6 L540.9,731.9 L545.0,730.0 Z" fill="#1e1e1e" stroke="#1e1e1e" stroke-width="0.9" stroke-linejoin="round"/>
<text x="476" y="724" font-family="Liberation Sans" font-size="20" fill="#1c1c1c" stroke="#1c1c1c" stroke-width="0.35">6</text>
<path d="M695.4,960.7 L768.4,960.7 M697.4,969.4 L767.4,969.4" fill="none" stroke="#2e2e2e" stroke-width="1.9" />
<path d="M695.4,960.7 Q691,957 686,956.8 Q682,956.8 680,957.7 Q682,958.8 685.2,960.2 Q689,964.8 685.2,969.4 Q681,968.6 678.1,969.4 Q681,973.5 686,973.6 Q692,972.5 697.4,969.4" fill="none" stroke="#2e2e2e" stroke-width="1.9" />
<path d="M768.4,960.7 Q772,957.2 776,957.4 Q781.5,958.3 784.7,962.8 Q781,961 777.6,960.2 Q773,965.5 776.6,971.4 Q779.5,971.6 782.6,971.9 Q779,974.2 775.5,974 Q771,972.8 767.4,969.4" fill="none" stroke="#2e2e2e" stroke-width="1.9" />
</svg>
<div class="t" style="left:962px;top:18.67px;font-size:20.0px;line-height:20.0px;width:299px;text-align:justify;text-align-last:justify;">Obtain gas cylinder and chain to</div>
<div class="t" style="left:962px;top:41.37px;font-size:20.0px;line-height:20.0px;width:299px;text-align:justify;text-align-last:justify;">running gear, wall, or other</div>
<div class="t" style="left:962px;top:63.77px;font-size:20.0px;line-height:20.0px;width:299px;text-align:justify;text-align-last:justify;">stationary support so cylinder</div>
<div class="t" style="left:962px;top:86.67px;font-size:20.0px;line-height:20.0px;">cannot fall and break off valve.</div>
<div class="t" style="left:962px;top:119.87px;font-size:20.0px;line-height:20.0px;">1 Cap</div>
<div class="t" style="left:962px;top:153.07px;font-size:20.0px;line-height:20.0px;">2 Cylinder Valve</div>
<div class="t" style="left:962px;top:185.47px;font-size:20.0px;line-height:20.0px;width:299px;text-align:justify;text-align-last:justify;">Remove cap, stand to side of</div>
<div class="t" style="left:962px;top:208.57px;font-size:20.0px;line-height:20.0px;width:299px;text-align:justify;text-align-last:justify;letter-spacing:-0.23px;">valve, and open valve slightly. Gas</div>
<div class="t" style="left:962px;top:231.27px;font-size:20.0px;line-height:20.0px;width:299px;text-align:justify;text-align-last:justify;letter-spacing:-0.36px;">flow blows dust and dirt from valve.</div>
<div class="t" style="left:962px;top:253.87px;font-size:20.0px;line-height:20.0px;">Close valve.</div>
<div class="t" style="left:962px;top:287.17px;font-size:20.0px;line-height:20.0px;">3 Cylinder</div>
<div class="t" style="left:962px;top:320.07px;font-size:20.0px;line-height:20.0px;">4 Regulator/Flowmeter</div>
<div class="t" style="left:962px;top:353.87px;font-size:20.0px;line-height:20.0px;">Install so face is vertical.</div>
<div class="t" style="left:962px;top:386.37px;font-size:20.0px;line-height:20.0px;">5 Regulator/Flowmeter Gas</div>
<div class="t" style="left:1001px;top:409.47px;font-size:20.0px;line-height:20.0px;">Hose Connection</div>
<div class="t" style="left:962px;top:440.17px;font-size:20.0px;line-height:20.0px;">6 Welding Power Source Gas</div>
<div class="t" style="left:1001px;top:462.37px;font-size:20.0px;line-height:20.0px;">Hose Connection</div>
<div class="t" style="left:962px;top:495.67px;font-size:20.0px;line-height:20.0px;width:299px;text-align:justify;text-align-last:justify;">Connect customer supplied gas</div>
<div class="t" style="left:962px;top:517.07px;font-size:20.0px;line-height:20.0px;width:299px;text-align:justify;text-align-last:justify;letter-spacing:-0.08px;">hose between regulator/flowmeter</div>
<div class="t" style="left:962px;top:538.87px;font-size:20.0px;line-height:20.0px;width:299px;text-align:justify;text-align-last:justify;letter-spacing:-0.3px;">gas hose connection, and fitting on</div>
<div class="t" style="left:962px;top:560.77px;font-size:20.0px;line-height:20.0px;">rear of welding power source.</div>
<div class="t" style="left:962px;top:594.77px;font-size:20.0px;line-height:20.0px;">7 Flow Adjust</div>
<div class="t" style="left:962px;top:628.67px;font-size:20.0px;line-height:20.0px;width:299px;text-align:justify;text-align-last:justify;">Typical flow rate is 20 cfh (cubic</div>
<div class="t" style="left:962px;top:650.57px;font-size:20.0px;line-height:20.0px;width:299px;text-align:justify;text-align-last:justify;">feet per hour). Check wire</div>
<div class="t" style="left:962px;top:674.67px;font-size:20.0px;line-height:20.0px;width:299px;text-align:justify;text-align-last:justify;">manufacturer&#8217;s recommended</div>
<div class="t" style="left:962px;top:696.87px;font-size:20.0px;line-height:20.0px;">flow rate.</div>
<div class="t" style="left:59.3px;top:119.51px;font-size:19.6px;line-height:19.6px;font-style:italic;letter-spacing:0.4px">DO NOT use Argon/Mixed gas regulator/flowmeter</div>
<div class="t" style="left:66px;top:145.71px;font-size:19.6px;line-height:19.6px;font-style:italic;letter-spacing:0.4px">with CO<span class="sub">2</span> shielding gas. See Parts List for optional</div>
<div class="t" style="left:66px;top:168.91px;font-size:19.6px;line-height:19.6px;font-style:italic;letter-spacing:0.4px">CO<span class="sub">2</span> gas regulator/flowmeter.</div>
<div class="t" style="left:698px;top:539.27px;font-size:20px;line-height:20px;">Argon Gas Or</div>
<div class="t" style="left:713.5px;top:561.90px;font-size:20.2px;line-height:20.2px;">Mixed Gas</div>
<div class="t" style="left:561px;top:892.10px;font-size:20.2px;line-height:20.2px;"><b>Rear Panel</b></div>
<div class="t" style="left:739.5px;top:923.32px;font-size:20.3px;line-height:20.3px;">Tools Needed:</div>
<div class="t" style="left:802px;top:955.37px;font-size:20px;line-height:20px;">1-1/8, 5/8 in</div>
<div class="t" style="left:1089px;top:979.16px;font-size:15.4px;line-height:15.4px;">802 028-A / Ref. 802 477-B</div>

</body></html>
